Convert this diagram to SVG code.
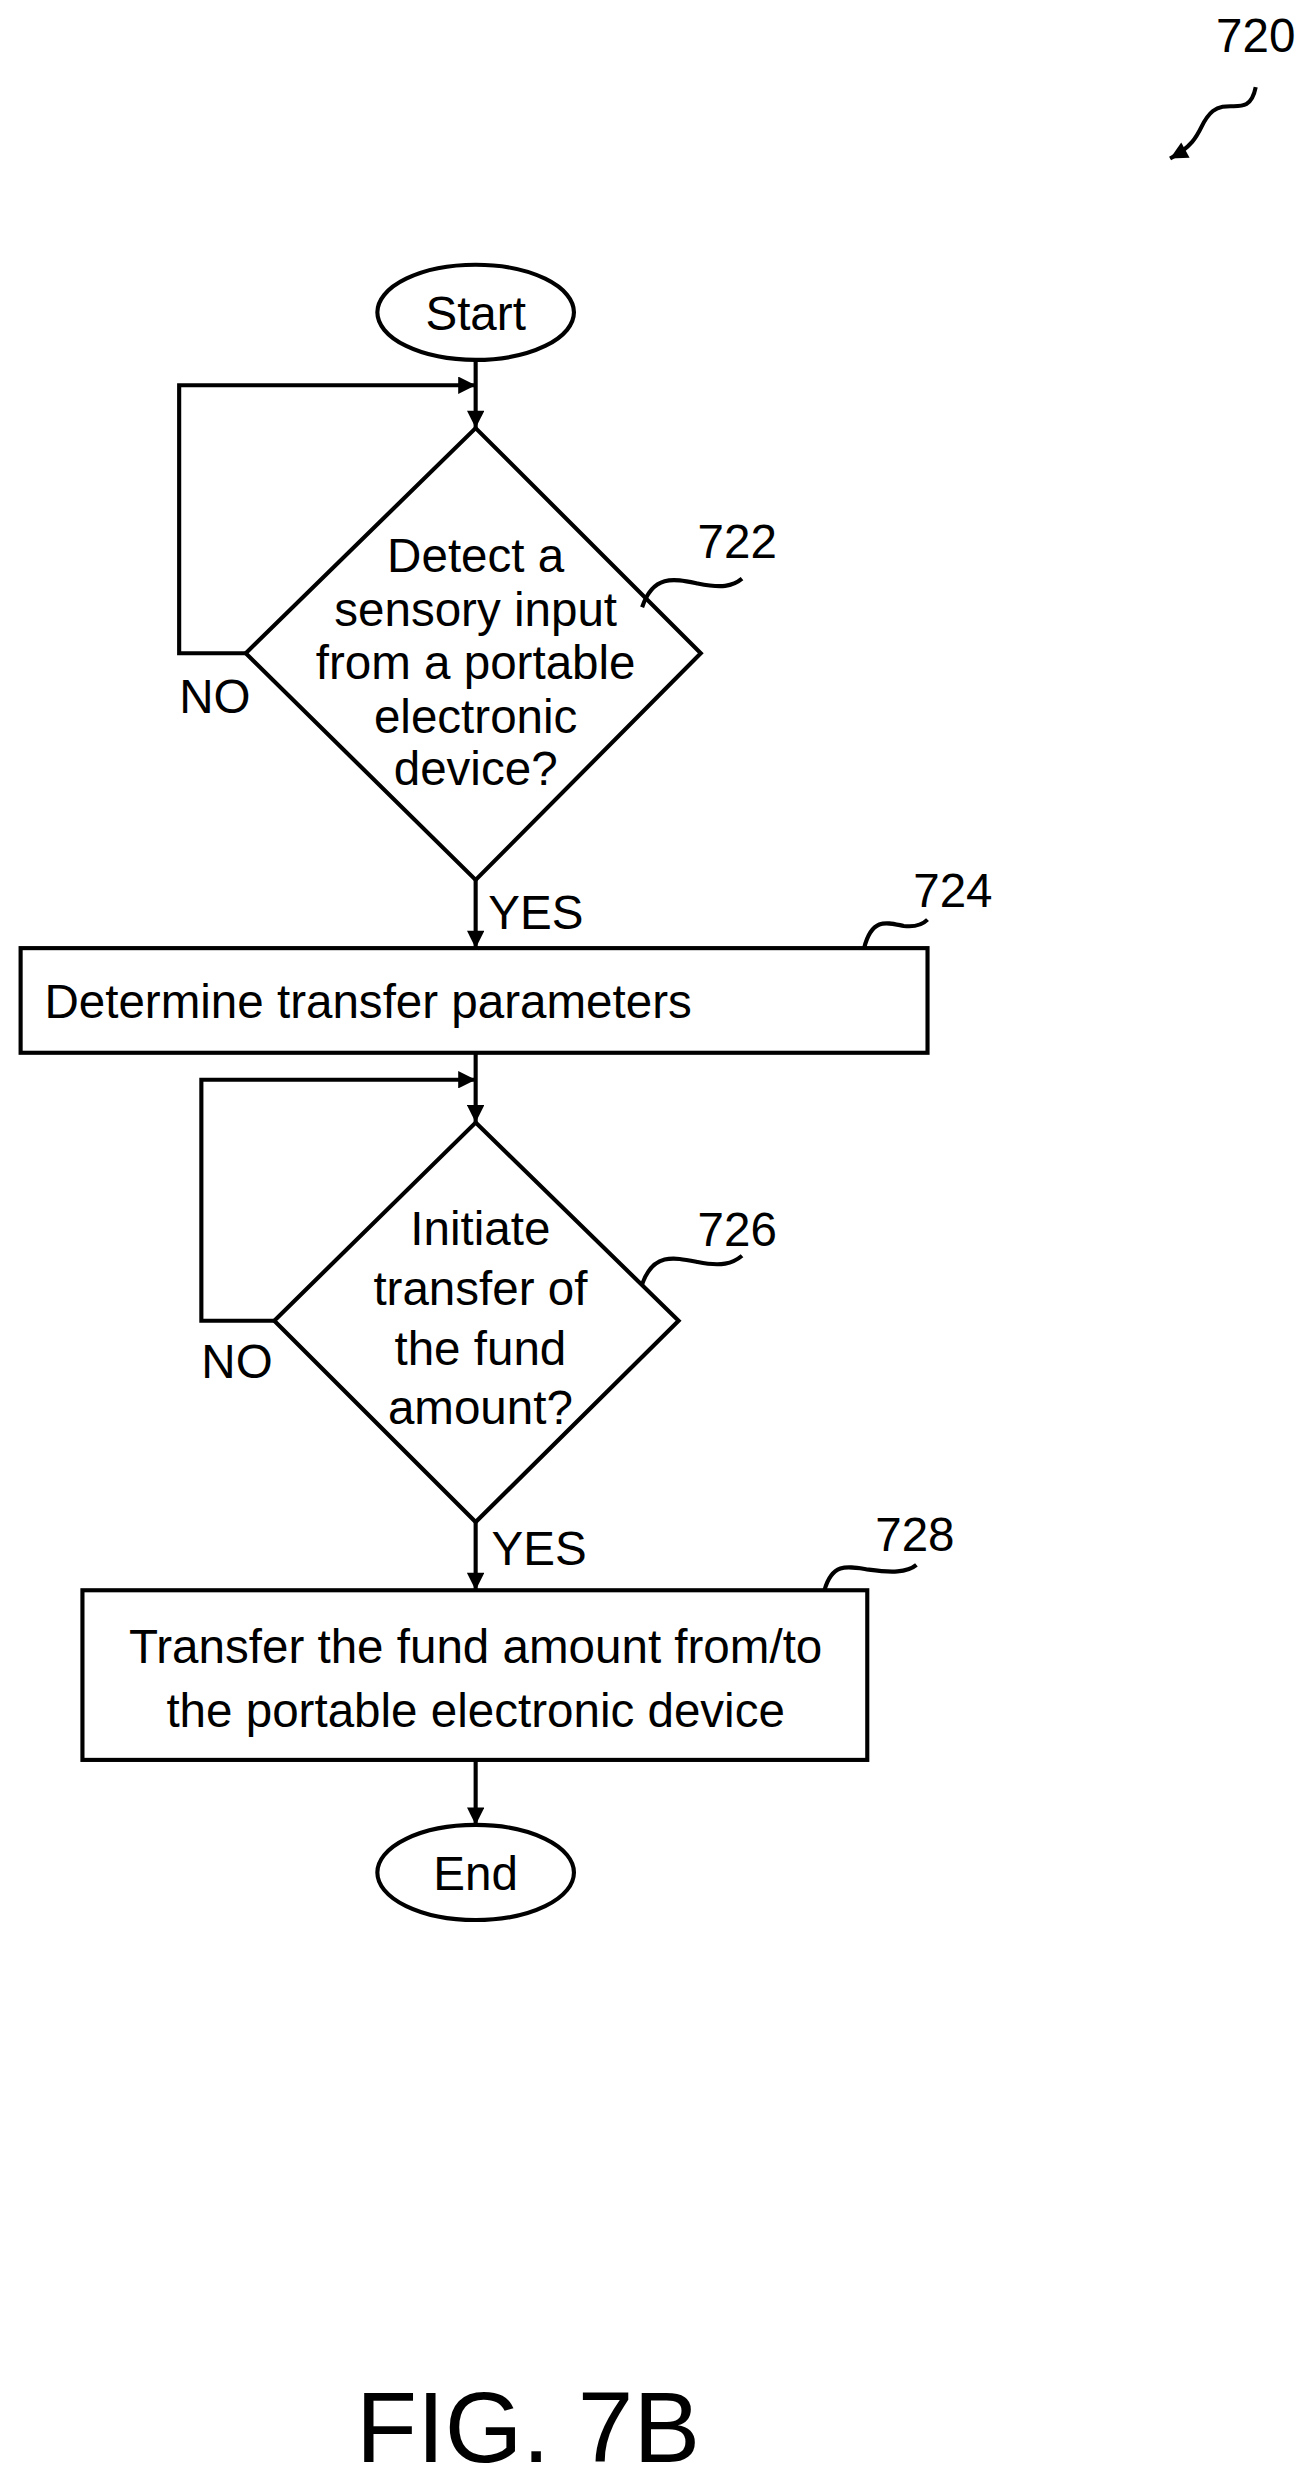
<svg xmlns="http://www.w3.org/2000/svg" width="1316" height="2487" viewBox="0 0 1316 2487">
<defs>
<marker id="ah" viewBox="0 0 10 10" refX="10" refY="5" markerWidth="13" markerHeight="11" orient="auto" markerUnits="userSpaceOnUse"><path d="M0,0 L10,5 L0,10 z" fill="#000"/></marker>
<style>
.s{fill:#fff;stroke:#000;stroke-width:2.6}
.l{fill:none;stroke:#000;stroke-width:2.6}
.t{font-family:"Liberation Sans",Arial,sans-serif;font-size:30px;fill:#000}
.c{text-anchor:middle}
</style>
</defs>
<rect width="1316" height="2487" fill="#fff"/>
<g transform="scale(1.5855)">
<g id="connectors">
<line class="l" x1="300" y1="227" x2="300" y2="270" marker-end="url(#ah)"/>
<polyline class="l" points="155,412 113,412 113,243 300,243" marker-end="url(#ah)"/>
<line class="l" x1="300" y1="555" x2="300" y2="598" marker-end="url(#ah)"/>
<line class="l" x1="300" y1="664" x2="300" y2="708" marker-end="url(#ah)"/>
<polyline class="l" points="173,833 127,833 127,681 300,681" marker-end="url(#ah)"/>
<line class="l" x1="300" y1="960" x2="300" y2="1003" marker-end="url(#ah)"/>
<line class="l" x1="300" y1="1110" x2="300" y2="1151" marker-end="url(#ah)"/>
<text class="t" x="113" y="450">NO</text>
<text class="t" x="308" y="586">YES</text>
<text class="t" x="127" y="869">NO</text>
<text class="t" x="310" y="987">YES</text>
</g>
<g id="ref720">
<text class="t" x="792" y="33" text-anchor="middle">720</text>
<path class="l" d="M792,55 C788,75 775,62 765,70 C755,78 760,88 738,100" marker-end="url(#ah)"/>
</g>
<g id="start">
<ellipse class="s" cx="300" cy="197" rx="62" ry="30"/>
<text class="t c" x="300" y="208">Start</text>
</g>
<g id="n722">
<polygon class="s" points="300,270 442,412 300,555 155,412"/>
<text class="t c" x="300" y="361">Detect a</text>
<text class="t c" x="300" y="395">sensory input</text>
<text class="t c" x="300" y="428">from a portable</text>
<text class="t c" x="300" y="462">electronic</text>
<text class="t c" x="300" y="495">device?</text>
<text class="t" x="440" y="352">722</text>
<path class="l" d="M405,383 C412,362 425,365 440,368 C455,371 462,370 468,365"/>
</g>
<g id="n724">
<rect class="s" x="13" y="598" width="572" height="66"/>
<text class="t" x="28" y="642">Determine transfer parameters</text>
<text class="t" x="576" y="572">724</text>
<path class="l" d="M545,598 C550,578 560,582 570,584 C578,585 582,583 585,580"/>
</g>
<g id="n726">
<polygon class="s" points="300,708 428,833 300,960 173,833"/>
<text class="t c" x="303" y="785">Initiate</text>
<text class="t c" x="303" y="823">transfer of</text>
<text class="t c" x="303" y="861">the fund</text>
<text class="t c" x="303" y="898">amount?</text>
<text class="t" x="440" y="786">726</text>
<path class="l" d="M405,810 C412,790 425,793 440,796 C455,799 462,797 468,792"/>
</g>
<g id="n728">
<rect class="s" x="52" y="1003" width="495" height="107"/>
<text class="t c" x="300" y="1049">Transfer the fund amount from/to</text>
<text class="t c" x="300" y="1089">the portable electronic device</text>
<text class="t" x="552" y="978">728</text>
<path class="l" d="M520,1003 C525,985 535,988 548,990 C562,992 572,992 578,987"/>
</g>
<g id="end">
<ellipse class="s" cx="300" cy="1181" rx="62" ry="30"/>
<text class="t c" x="300" y="1192">End</text>
</g>
<text class="t c" x="333" y="1553" style="font-size:63px">FIG. 7B</text>
</g>
</svg>
